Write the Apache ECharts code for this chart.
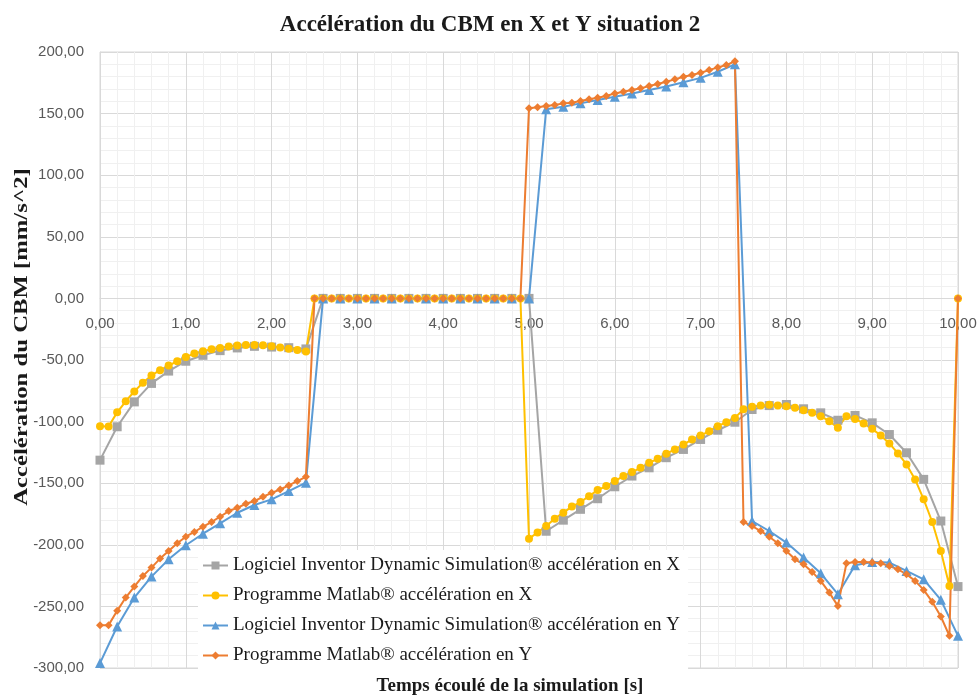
<!DOCTYPE html>
<html><head><meta charset="utf-8">
<script src="https://cdn.jsdelivr.net/npm/echarts/dist/echarts.min.js"></script>
<style>html,body{margin:0;padding:0;background:#fff}#c{width:980px;height:697px}</style>
</head><body><div id="c"></div>
<script>
const chartTitle = "Accélération du CBM en X et Y situation 2";
const xAxisTitle = "Temps écoulé de la simulation [s]";
const yAxisTitle = "Accélération du CBM [mm/s^2]";
const seriesNames = [
  "Logiciel Inventor Dynamic Simulation® accélération en X",
  "Programme Matlab® accélération en X",
  "Logiciel Inventor Dynamic Simulation® accélération en Y",
  "Programme Matlab® accélération en Y"
];
const timeMatlab = [0,0.1,0.2,0.3,0.4,0.5,0.6,0.7,0.8,0.9,1,1.1,1.2,1.3,1.4,1.5,1.6,1.7,1.8,1.9,2,2.1,2.2,2.3,2.4,2.5,2.6,2.7,2.8,2.9,3,3.1,3.2,3.3,3.4,3.5,3.6,3.7,3.8,3.9,4,4.1,4.2,4.3,4.4,4.5,4.6,4.7,4.8,4.9,5,5.1,5.2,5.3,5.4,5.5,5.6,5.7,5.8,5.9,6,6.1,6.2,6.3,6.4,6.5,6.6,6.7,6.8,6.9,7,7.1,7.2,7.3,7.4,7.5,7.6,7.7,7.8,7.9,8,8.1,8.2,8.3,8.4,8.5,8.6,8.7,8.8,8.9,9,9.1,9.2,9.3,9.4,9.5,9.6,9.7,9.8,9.9,10];
const timeInventor = [0,0.2,0.4,0.6,0.8,1,1.2,1.4,1.6,1.8,2,2.2,2.4,2.6,2.8,3,3.2,3.4,3.6,3.8,4,4.2,4.4,4.6,4.8,5,5.2,5.4,5.6,5.8,6,6.2,6.4,6.6,6.8,7,7.2,7.4,7.6,7.8,8,8.2,8.4,8.6,8.8,9,9.2,9.4,9.6,9.8,10];
const matlabX = [-103.7,-104,-92.5,-83.5,-75.5,-68.5,-62.5,-58.3,-54.5,-51,-47.5,-44.8,-42.9,-41.3,-40.2,-39.1,-38.3,-37.8,-37.8,-38.1,-38.9,-39.9,-40.8,-41.8,-43.2,
  0,0,0,0,0,0,0,0,0,0,0,0,0,0,0,0,0,0,0,0,0,0,0,0,0,
  -195,-190,-184.8,-178.8,-173.9,-169,-165.3,-160.5,-155.6,-152.3,-148.3,-144.2,-141,-137.5,-133.4,-130.2,-126.1,-122.6,-118.6,-114.5,-111.3,-107.8,-103.7,-100.5,-97,
  -90,-88,-87,-86.4,-87,-87.5,-88.8,-90.8,-92.9,-95.6,-99.7,-105,-95.6,-97.8,-101.5,-105.9,-111.3,-117.7,-125.8,-134.8,-146.9,-163.1,-181.5,-205,-233.4,
  0];
const matlabY = [-265.2,-265.2,-253.6,-242.8,-233.9,-225.3,-218.5,-211.2,-205,-198.8,-193.4,-189.6,-185.3,-181.5,-177.2,-172.6,-170,-166.7,-164.5,-161,-157.8,-155.1,-151.8,-148.3,-144.8,
  0,0,0,0,0,0,0,0,0,0,0,0,0,0,0,0,0,0,0,0,0,0,0,0,0,
  154.3,155.1,156.2,157,158.3,158.8,160.2,161.6,162.9,164.3,166.4,167.8,169.1,170.5,172.4,174,175.9,177.8,179.9,181.3,183.1,185.3,187.5,189.4,192.5,
  -181.5,-184.8,-188.8,-193.4,-198.8,-205,-211.8,-215.8,-222,-229.3,-238.8,-249.6,-215,-213.9,-213.9,-214.4,-215,-217.2,-219.9,-223.9,-229.3,-236.6,-246.3,-258.2,-273.9,
  0];
const inventorX = [-131.3,-104.2,-84,-69,-59,-51,-46.2,-42.4,-40.2,-38.9,-39.5,-40,-41,
  0,0,0,0,0,0,0,0,0,0,0,0,0,
  -189,-180,-171.2,-162.6,-152.9,-144.2,-137.5,-129.3,-122.6,-114.5,-107,-100.5,
  -90.2,-87,-86.1,-89.6,-92.9,-98.9,-95,-101,-110.5,-125.3,-146.9,-180.7,-233.9];
const inventorY = [-296,-266.3,-242.8,-225.8,-211.8,-200.4,-191,-182.6,-174,-167.7,-163.1,-156.4,-149.6,
  0,0,0,0,0,0,0,0,0,0,0,0,0,
  153.5,155.6,158.3,161,163.7,166.4,169.2,172,175.5,179,184,190,
  -180.7,-188.8,-198.2,-210.4,-223.1,-240.1,-216.6,-213.9,-214.4,-221.2,-228,-244.7,-273.9];

const zip = (t, v) => t.map((x, i) => [x, v[i]]);
const fmt = v => v.toFixed(2).replace('.', ',');
const serif = '"Liberation Serif", "Times New Roman", serif';

const gridTop = 52, gridBottom = 29, H = 697;
const yMin = -300, yMax = 200;
const plotH = H - gridTop - gridBottom;
const zeroOffset = -(plotH * (0 - yMin) / (yMax - yMin)); // move x axis from bottom up to y = 0

const chart = echarts.init(document.getElementById('c'), null, {renderer: 'canvas'});
const mk = (name, t, v, symbol, size, color) => ({
  name, type: 'line', data: zip(t, v), symbol, symbolSize: size, showSymbol: true,
  itemStyle: {color}, lineStyle: {color, width: 2}, emphasis: {disabled: true}
});
chart.setOption({
  animation: false,
  backgroundColor: '#ffffff',
  title: {text: chartTitle, left: 'center', top: 9,
    textStyle: {fontFamily: serif, fontWeight: 'bold', fontSize: 23, color: '#1a1a1a'}},
  grid: {left: 100, right: 22, top: gridTop, bottom: gridBottom, show: true, borderColor: '#d9d9d9', borderWidth: 1},
  legend: {orient: 'vertical', left: 198, top: 550, backgroundColor: '#ffffff',
    padding: [6, 8, 7, 4], itemGap: 11, itemWidth: 25, itemHeight: 10,
    textStyle: {fontFamily: serif, fontSize: 19, color: '#1a1a1a'}, data: seriesNames},
  xAxis: {type: 'value', min: 0, max: 10, interval: 1, offset: zeroOffset,
    axisLine: {onZero: false, lineStyle: {color: '#d9d9d9'}}, axisTick: {show: false},
    axisLabel: {formatter: fmt, margin: 18, fontFamily: '"Liberation Sans", sans-serif', fontSize: 15, color: '#595959'},
    splitLine: {lineStyle: {color: '#d9d9d9'}},
    minorTick: {show: false, splitNumber: 5}, minorSplitLine: {show: true, lineStyle: {color: '#f0f0f0'}}},
  yAxis: {type: 'value', min: yMin, max: yMax, interval: 50,
    axisLine: {show: true, lineStyle: {color: '#d9d9d9'}}, axisTick: {show: false},
    axisLabel: {formatter: fmt, margin: 16, fontFamily: '"Liberation Sans", sans-serif', fontSize: 15, color: '#595959'},
    splitLine: {lineStyle: {color: '#d9d9d9'}},
    minorTick: {show: false, splitNumber: 5}, minorSplitLine: {show: true, lineStyle: {color: '#f0f0f0'}}},
  graphic: [
    {type: 'text', x: 510, y: 686, style: {text: xAxisTitle, align: 'center', verticalAlign: 'middle',
      font: 'bold 19px ' + serif, fill: '#1a1a1a'}},
    {type: 'text', x: 22, y: 337, rotation: Math.PI / 2, scaleX: 1.3, style: {text: yAxisTitle, align: 'center', verticalAlign: 'middle',
      font: 'bold 19px ' + serif, fill: '#1a1a1a'}}
  ],
  series: [
    mk(seriesNames[0], timeInventor, inventorX, 'rect', 9, '#A5A5A5'),
    mk(seriesNames[1], timeMatlab, matlabX, 'circle', 8, '#FFC000'),
    mk(seriesNames[2], timeInventor, inventorY, 'triangle', 10, '#5B9BD5'),
    mk(seriesNames[3], timeMatlab, matlabY, 'diamond', 8, '#ED7D31')
  ]
});
</script></body></html>
